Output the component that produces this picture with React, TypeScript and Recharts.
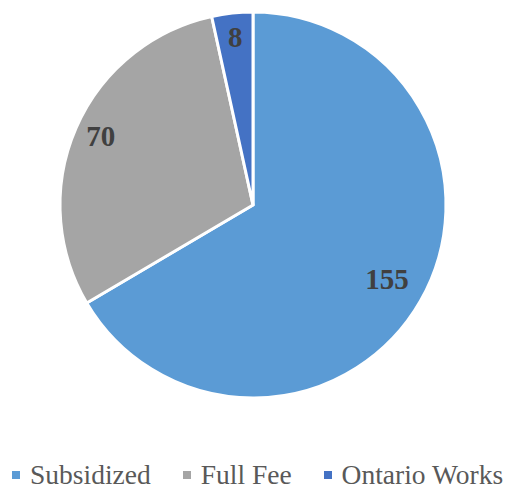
import React from 'react';
import { PieChart, Pie, Cell, Legend } from 'recharts';

const categories = ['Subsidized', 'Full Fee', 'Ontario Works'];
const counts = [155, 70, 8];
const COLORS = ['#5B9BD5', '#A5A5A5', '#4472C4'];

const data = categories.map((name, i) => ({ name, value: counts[i] }));

const RADIAN = Math.PI / 180;
const SERIF = "'Liberation Serif', 'Times New Roman', serif";

// big slice label sits a bit further in, like Excel's best-fit placement
const renderLabel = (props: any) => {
  const { cx, cy, midAngle, outerRadius, value, percent } = props;
  const r = outerRadius * (percent > 0.5 ? 0.8 : 0.86);
  const x = cx + r * Math.cos(-midAngle * RADIAN);
  const y = cy + r * Math.sin(-midAngle * RADIAN) - 3;
  return (
    <text
      x={x}
      y={y}
      fill="#404040"
      textAnchor="middle"
      dominantBaseline="central"
      fontFamily={SERIF}
      fontWeight="bold"
      fontSize={29}
    >
      {value}
    </text>
  );
};

const renderLegend = () => (
  <div
    style={{
      display: 'flex',
      alignItems: 'center',
      paddingLeft: 12,
      fontFamily: SERIF,
      fontSize: 27.5,
      color: '#595959',
      whiteSpace: 'nowrap',
    }}
  >
    {categories.map((name, i) => (
      <div key={name} style={{ display: 'flex', alignItems: 'center', marginRight: 32 }}>
        <span style={{ width: 8, height: 8, background: COLORS[i], marginRight: 10, display: 'inline-block' }} />
        <span>{name}</span>
      </div>
    ))}
  </div>
);

export default function App() {
  return (
    <div style={{ position: 'absolute', left: 0, top: 0, background: '#fff' }}>
      <PieChart width={507} height={490} margin={{ top: 0, right: 0, bottom: 0, left: 0 }}>
        <Pie
          data={data}
          dataKey="value"
          nameKey="name"
          cx={253}
          cy={205}
          outerRadius={193}
          startAngle={90}
          endAngle={-270}
          stroke="#fff"
          strokeWidth={3}
          label={renderLabel}
          labelLine={false}
          isAnimationActive={false}
        >
          {data.map((d, i) => (
            <Cell key={d.name} fill={COLORS[i]} />
          ))}
        </Pie>
        <Legend
          content={renderLegend}
          layout="horizontal"
          verticalAlign="bottom"
          wrapperStyle={{ position: 'absolute', left: 0, top: 459, width: 507 }}
        />
      </PieChart>
    </div>
  );
}
